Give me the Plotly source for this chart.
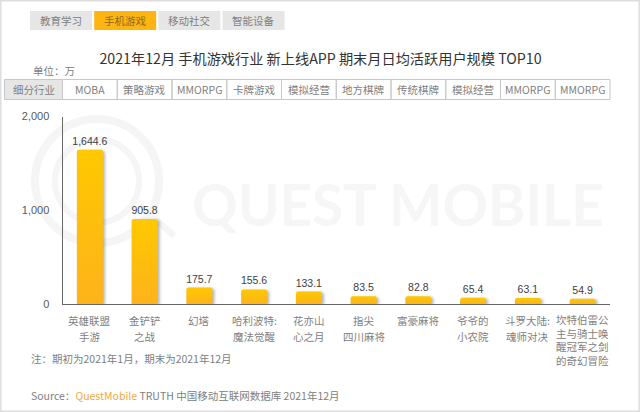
import plotly.graph_objects as go

apps = ["英雄联盟手游", "金铲铲之战", "幻塔", "哈利波特:魔法觉醒", "花亦山心之月", "指尖四川麻将",
        "富豪麻将", "爷爷的小农院", "斗罗大陆:魂师对决", "坎特伯雷公主与骑士唤醒冠军之剑的奇幻冒险"]
app_lines = [["英雄联盟", "手游"], ["金铲铲", "之战"], ["幻塔"], ["哈利波特:", "魔法觉醒"], ["花亦山", "心之月"],
             ["指尖", "四川麻将"], ["富豪麻将"], ["爷爷的", "小农院"], ["斗罗大陆:", "魂师对决"],
             ["坎特伯雷公", "主与骑士唤", "醒冠军之剑", "的奇幻冒险"]]
values = [1644.6, 905.8, 175.7, 155.6, 133.1, 83.5, 82.8, 65.4, 63.1, 54.9]
genres = ["MOBA", "策略游戏", "MMORPG", "卡牌游戏", "模拟经营", "地方棋牌", "传统棋牌", "模拟经营", "MMORPG", "MMORPG"]
tabs = ["教育学习", "手机游戏", "移动社交", "智能设备"]
y_ticks = [0, 1000, 2000]

W, H = 640, 412
CJK = "Noto Sans CJK SC"
GREY = "#808080"
px = lambda v: v / W
py = lambda v: 1 - v / H
X0, X1, YT, YB = 62.5, 610, 116.5, 304

fig = go.Figure(go.Bar(
    x=apps, y=values, width=0.475, marker=dict(color="#FFBD12", line_width=0),
    text=values, texttemplate="%{y:,.1f}", textposition="outside", cliponaxis=False, constraintext="none",
    textfont=dict(family="Liberation Sans", size=10.5, color="#404040"), name="期末月日均活跃用户规模",
))

shapes, notes = [], []


def rect(x0, y0, x1, y1, line=None, fill=None, layer="above", width=1, kind="rect"):
    shapes.append(dict(type=kind, xref="paper", yref="paper", x0=px(x0), x1=px(x1), y0=py(y0), y1=py(y1),
                       line=dict(color=line or "rgba(0,0,0,0)", width=width if line else 0),
                       fillcolor=fill or "rgba(0,0,0,0)", layer=layer))


def note(x, y, text, size=10.5, color=GREY, anchor="center", family=CJK, weight=None):
    font = dict(family=family, size=size, color=color)
    if weight:
        font["weight"] = weight
    notes.append(dict(xref="paper", yref="paper", x=px(x), y=py(y), text=text, showarrow=False, borderpad=0,
                      xanchor=anchor, yanchor="middle", font=font))


# frame
rect(0.8, 0.8, 639.2, 411.2, line="#dedede", width=1.5, layer="below")

# watermark
for cx, cy, r, w in [(97, 181, 62, 8), (97, 181, 42, 6)]:
    rect(cx - r, cy - r, cx + r, cy + r, line="#f5f5f5", width=w, layer="below", kind="circle")
shapes.append(dict(type="line", xref="paper", yref="paper", x0=px(140), x1=px(174), y0=py(205), y1=py(236),
                   line=dict(color="#f5f5f5", width=6), layer="below"))
note(191, 204, "QUEST MOBILE", size=56.5, color="#f6f6f6", anchor="left", family="Lato", weight=700)

# tabs
for i, t in enumerate(tabs):
    x = 30 + i * 64.2
    active = i == 1
    rect(x, 11, x + 62, 30, fill="#FFB511" if active else "#e6e6e6", layer="below")
    note(x + 31, 21, t, color="#8a6a20" if active else GREY)

# table
TL, TT, TB = 4.5, 79.5, 99.5
step = (X1 - X0) / len(genres)
rect(TL, TT, X0, TB, fill="#e6e6e6", line="#c8c8c8", layer="below")
note((TL + X0) / 2, 89.5, "细分行业")
for i, g in enumerate(genres):
    rect(X0 + i * step, TT, X0 + (i + 1) * step, TB, line="#c8c8c8", layer="below")
    note(X0 + (i + .5) * step, 89.5, g)

# category labels: two-line labels sit wider apart than the four-line one
for i, lines in enumerate(app_lines):
    cx = X0 + (i + .5) * step
    if len(lines) > 2:
        note(cx, 339.5, "<br>".join(lines))
    else:
        for j, line in enumerate(lines):
            note(cx, 320 + j * 16.5, line)

note(32, 70, "单位：万", size=10.5, anchor="left")
note(30, 358, "注：期初为2021年1月，期末为2021年12月", anchor="left")
note(30, 395, 'Source：<span style="color:#F4A83C">QuestMobile</span> TRUTH 中国移动互联网数据库 2021年12月',
     anchor="left")

fig.update_layout(
    width=W, height=H, margin=dict(l=0, r=0, t=0, b=0, autoexpand=False), paper_bgcolor="white",
    plot_bgcolor="rgba(0,0,0,0)", showlegend=False, barcornerradius=2,
    title=dict(text="2021年12月 手机游戏行业 新上线APP 期末月日均活跃用户规模 TOP10", x=320.5 / W, xanchor="center",
               y=py(59), yanchor="middle", font=dict(family=CJK, size=14.2, color="#333333")),
    xaxis=dict(domain=[px(X0), px(X1)], type="category", showticklabels=False, ticks="", showgrid=False,
               showline=True, linecolor="#666666", linewidth=1, zeroline=False),
    yaxis=dict(domain=[py(YB), py(YT)], range=[0, 2000], tickvals=y_ticks, tickformat=",", showgrid=False,
               showline=True, linecolor="#666666", linewidth=1, zeroline=False, ticks="", ticklabelstandoff=10,
               tickfont=dict(family="Liberation Sans", size=11, color="#595959")),
    shapes=shapes, annotations=notes,
)

post = """
document.documentElement.style.overflow='hidden';
document.body.style.margin='0';
var svg=document.querySelector('.main-svg');
var ns='http://www.w3.org/2000/svg';
var d=document.createElementNS(ns,'defs');
d.innerHTML='<linearGradient id="barfade" x1="0" y1="0" x2="0" y2="1"><stop offset="0" stop-color="#FFC800"/><stop offset="1" stop-color="#FDB31B"/></linearGradient>';
svg.appendChild(d);
document.querySelectorAll('.barlayer .point path').forEach(function(p){
  p.style.fill='url(#barfade)';
  p.style.filter='drop-shadow(2px 1px 1.5px rgba(0,0,0,.3))';
});
"""
fig.write_html("out.html", post_script=post, config={"displayModeBar": False})
